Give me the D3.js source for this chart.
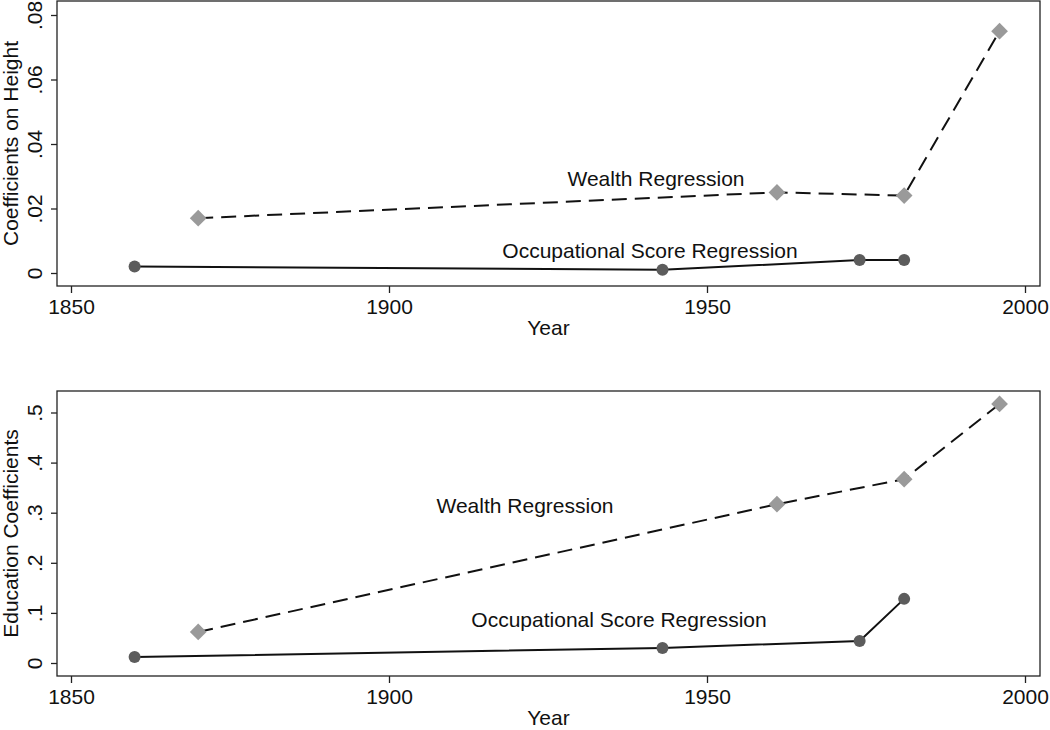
<!DOCTYPE html>
<html>
<head>
<meta charset="utf-8">
<script src="https://cdn.jsdelivr.net/npm/d3@7"></script>
<style>
  body { margin: 0; background: #fff; }
  svg { display: block; font-family: "Liberation Sans", Arial, sans-serif; }
</style>
</head>
<body>
<div id="chart"></div>
<script>
// data
var occYears = [1860, 1943, 1974, 1981];
var wealthYears = [1870, 1961, 1981, 1996];

var heightOcc = [0.002, 0.001, 0.004, 0.004];
var heightWealth = [0.017, 0.025, 0.024, 0.075];

var eduOcc = [0.012, 0.030, 0.044, 0.128];
var eduWealth = [0.062, 0.317, 0.367, 0.517];

var xTicks = [1850, 1900, 1950, 2000];
var heightTicks = [0, 0.02, 0.04, 0.06, 0.08];
var eduTicks = [0, 0.1, 0.2, 0.3, 0.4, 0.5];

const W = 1050, H = 730;
const FS = 21;
var svg = d3.select('#chart').append('svg').attr('width', W).attr('height', H);

var x = d3.scaleLinear().domain([1850, 2000]).range([71, 1025]);

// stata style: .02 instead of 0.02
function stataFmt(d) {
  if (d === 0) return '0';
  return d3.format('.2~f')(d).replace(/^0/, '');
}

function panel(opt) {
  var g = svg.append('g');
  var y = d3.scaleLinear().domain(opt.domain).range(opt.range);

  // frame
  g.append('rect')
    .attr('x', 57).attr('y', opt.top)
    .attr('width', 1040 - 57).attr('height', opt.bottom - opt.top)
    .attr('fill', 'none').attr('stroke', '#222').attr('stroke-width', 1.3);

  // x axis
  var xa = g.append('g').attr('transform', `translate(0, ${opt.bottom})`)
    .call(d3.axisBottom(x).tickValues(xTicks).tickSize(7).tickSizeOuter(0).tickFormat(d3.format('d')));
  xa.select('.domain').remove();
  xa.selectAll('line').attr('stroke', '#222').attr('stroke-width', 1.3);
  xa.selectAll('text').attr('font-size', FS).attr('fill', '#111').attr('y', 9).attr('dy', '0.9em');

  g.append('text')
    .attr('x', (57 + 1040) / 2).attr('y', opt.bottom + 49)
    .attr('text-anchor', 'middle').attr('font-size', FS).attr('fill', '#111')
    .text('Year');

  // y axis
  var ya = g.append('g').attr('transform', 'translate(57, 0)')
    .call(d3.axisLeft(y).tickValues(opt.ticks).tickSize(6).tickSizeOuter(0).tickFormat(stataFmt));
  ya.select('.domain').remove();
  ya.selectAll('line').attr('stroke', '#222').attr('stroke-width', 1.3);
  ya.selectAll('.tick text')
    .attr('font-size', FS).attr('fill', '#111')
    .attr('x', null).attr('dy', null)
    .attr('text-anchor', 'middle')
    .attr('transform', 'translate(-15, 0) rotate(-90)');

  g.append('text')
    .attr('transform', `translate(18, ${(opt.top + opt.bottom) / 2}) rotate(-90)`)
    .attr('text-anchor', 'middle').attr('font-size', FS).attr('fill', '#111')
    .text(opt.ytitle);

  var line = d3.line().x(d => x(d[0])).y(d => y(d[1]));

  var occ = d3.zip(occYears, opt.occ);
  var wealth = d3.zip(wealthYears, opt.wealth);

  g.append('path').datum(occ).attr('d', line)
    .attr('fill', 'none').attr('stroke', '#111').attr('stroke-width', 2);
  g.append('path').datum(wealth).attr('d', line)
    .attr('fill', 'none').attr('stroke', '#111').attr('stroke-width', 2)
    .attr('stroke-dasharray', '15,8');

  g.selectAll('.circ').data(occ).enter().append('circle')
    .attr('cx', d => x(d[0])).attr('cy', d => y(d[1])).attr('r', 6)
    .attr('fill', '#5c5c5c');

  var diamond = d3.symbol().type(d3.symbolSquare).size(140);
  g.selectAll('.dia').data(wealth).enter().append('path')
    .attr('d', diamond)
    .attr('transform', d => `translate(${x(d[0])}, ${y(d[1])}) rotate(45)`)
    .attr('fill', '#9a9a9a');

  // series labels
  opt.labels.forEach(function (l) {
    g.append('text')
      .attr('x', l.x).attr('y', l.y)
      .attr('text-anchor', 'middle').attr('font-size', FS).attr('fill', '#111')
      .text(l.text);
  });
}

panel({
  top: 1, bottom: 286,
  domain: [0, 0.08], range: [273, 15],
  ticks: heightTicks,
  ytitle: 'Coefficients on Height',
  occ: heightOcc, wealth: heightWealth,
  labels: [
    { text: 'Wealth Regression', x: 656, y: 186 },
    { text: 'Occupational Score Regression', x: 650, y: 258 }
  ]
});

panel({
  top: 391, bottom: 676,
  domain: [0, 0.5], range: [663, 412.5],
  ticks: eduTicks,
  ytitle: 'Education Coefficients',
  occ: eduOcc, wealth: eduWealth,
  labels: [
    { text: 'Wealth Regression', x: 525, y: 513 },
    { text: 'Occupational Score Regression', x: 619, y: 627 }
  ]
});
</script>
</body>
</html>
